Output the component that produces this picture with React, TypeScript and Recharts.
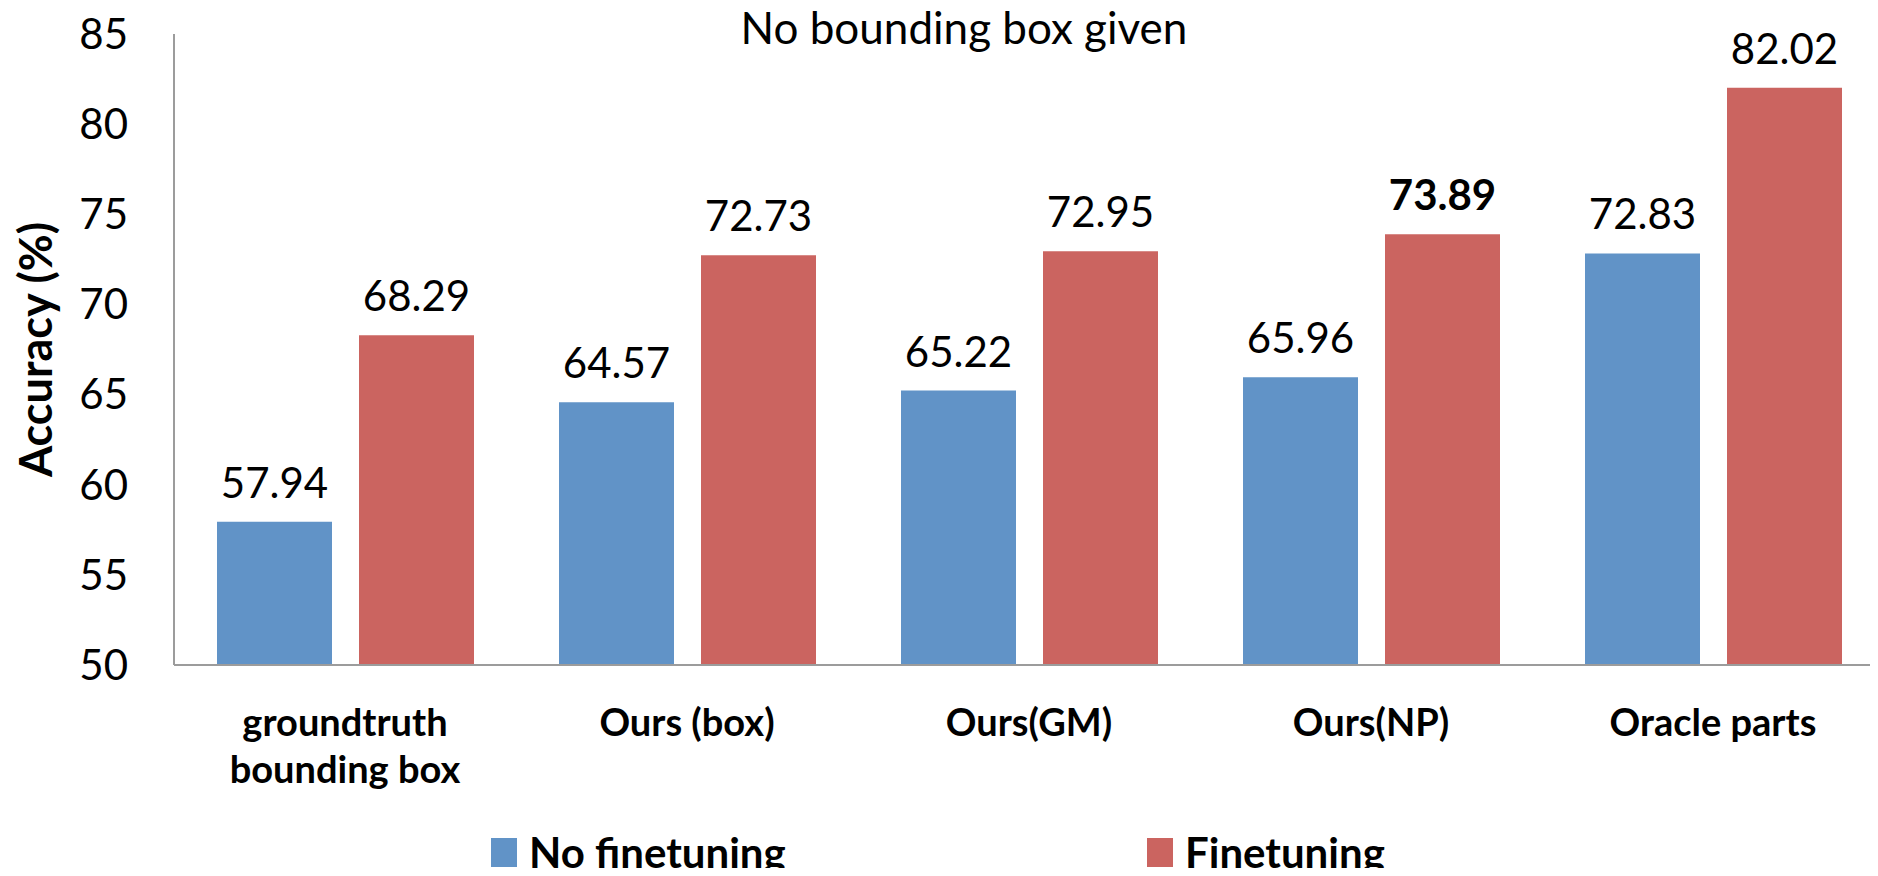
import React from 'react';
import { BarChart, Bar, XAxis, YAxis, Legend, LabelList } from 'recharts';

// values
const categories = ['groundtruth\nbounding box', 'Ours (box)', 'Ours(GM)', 'Ours(NP)', 'Oracle parts'];
const noFinetuning = [57.94, 64.57, 65.22, 65.96, 72.83];
const finetuning = [68.29, 72.73, 72.95, 73.89, 82.02];
const yTicks = [50, 55, 60, 65, 70, 75, 80, 85];
const seriesNames = ['No finetuning', 'Finetuning'];
const BEST_INDEX = 3; // Ours(NP) finetuning is printed bold

const COLORS = { blue: '#6193C7', red: '#CB6460', axis: '#9C9C9C' };
const FONT = 'Lato, "Open Sans", sans-serif';
const LEGEND_X = [491, 1147];

const data = categories.map((name, i) => ({
  name,
  noFinetuning: noFinetuning[i],
  finetuning: finetuning[i],
}));

const makeValueLabel = (boldBest: boolean) => (props: any) => {
  const { x, y, width, value, index } = props;
  return (
    <text
      x={x + width / 2}
      y={y - 24}
      textAnchor="middle"
      fontFamily={FONT}
      fontSize={42}
      fontWeight={boldBest && index === BEST_INDEX ? 700 : 400}
      fill="#000"
    >
      {Number(value).toFixed(2)}
    </text>
  );
};

const CategoryTick = (props: any) => {
  const { x, y, payload } = props;
  const lines = String(payload.value).split('\n');
  return (
    <text x={x} y={y + 71} textAnchor="middle" fontFamily={FONT} fontSize={38} fontWeight={700} fill="#000">
      {lines.map((line, i) => (
        <tspan key={i} x={x} dy={i === 0 ? 0 : 47}>
          {line}
        </tspan>
      ))}
    </text>
  );
};

const YTitle = (props: any) => {
  const { x, y, height } = props.viewBox;
  const cx = x + 52;
  const cy = y + height / 2;
  return (
    <text
      x={cx}
      y={cy}
      transform={`rotate(-90, ${cx}, ${cy})`}
      textAnchor="middle"
      fontFamily={FONT}
      fontSize={45}
      fontWeight={700}
      fill="#000"
    >
      Accuracy (%)
    </text>
  );
};

const LegendContent = (props: any) => {
  const { payload = [] } = props;
  // keep the series order, not the alphabetical one
  const items = seriesNames.map((n) => payload.find((p: any) => p.value === n)).filter(Boolean);
  return (
    <div style={{ position: 'relative', height: 44 }}>
      {items.map((item: any, i: number) => (
        <div
          key={item.value}
          style={{ position: 'absolute', left: LEGEND_X[i], top: 0, height: 44, display: 'flex', alignItems: 'center' }}
        >
          <span style={{ display: 'inline-block', width: 26, height: 29, background: item.color, marginRight: 12 }} />
          <span style={{ fontFamily: FONT, fontWeight: 700, fontSize: 42, color: '#000', lineHeight: '44px' }}>
            {item.value}
          </span>
        </div>
      ))}
    </div>
  );
};

const App: React.FC = () => {
  return (
    <div style={{ position: 'relative', width: 1878, height: 876, margin: -8, overflow: 'hidden', background: '#fff' }}>
      <BarChart
        width={1884}
        height={876}
        data={data}
        margin={{ top: 34, right: 0, left: 0, bottom: 2 }}
        barSize={115}
        barGap={27}
      >
        <YAxis
          domain={[50, 85]}
          ticks={yTicks}
          width={174}
          tickLine={false}
          tickSize={6}
          tickMargin={40}
          axisLine={{ stroke: COLORS.axis, strokeWidth: 2 }}
          tick={{ fill: '#000', fontFamily: FONT, fontSize: 42 }}
          label={<YTitle />}
        />
        <XAxis
          dataKey="name"
          height={165}
          tickLine={false}
          tickSize={0}
          tickMargin={0}
          interval={0}
          axisLine={{ stroke: COLORS.axis, strokeWidth: 2 }}
          tick={<CategoryTick />}
        />
        <Legend verticalAlign="bottom" content={<LegendContent />} />
        <Bar dataKey="noFinetuning" name={seriesNames[0]} fill={COLORS.blue} isAnimationActive={false}>
          <LabelList dataKey="noFinetuning" content={makeValueLabel(false)} />
        </Bar>
        <Bar dataKey="finetuning" name={seriesNames[1]} fill={COLORS.red} isAnimationActive={false}>
          <LabelList dataKey="finetuning" content={makeValueLabel(true)} />
        </Bar>
      </BarChart>
      <svg width={1878} height={70} style={{ position: 'absolute', left: 0, top: 0, pointerEvents: 'none' }}>
        <text x={964} y={44} textAnchor="middle" fontFamily={FONT} fontSize={44} fill="#000">
          No bounding box given
        </text>
      </svg>
    </div>
  );
};

export default App;
